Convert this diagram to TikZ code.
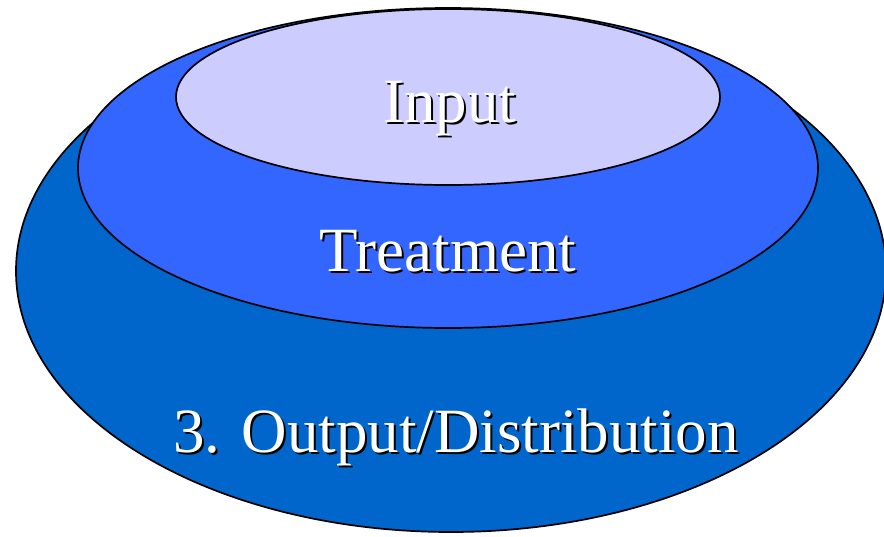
\documentclass[tikz,border=0pt]{standalone}
\usepackage{fontspec}
\setmainfont{Liberation Serif}
\usetikzlibrary{shapes.geometric}
\definecolor{outerblue}{HTML}{0066CC}
\definecolor{midblue}{HTML}{3366FF}
\definecolor{innerlav}{HTML}{CCCCFF}
\newcommand{\shadowedtext}[1]{\makebox[0pt][l]{\hspace{2pt}\raisebox{-2pt}{\color{black}#1}}\color{white}#1}
\tikzset{
  ring/.style={ellipse, draw=black, line width=1.7pt, inner sep=0pt},
  lbl/.style={anchor=base, inner sep=0pt, font=\fontsize{63}{70}\selectfont}
}
\begin{document}
\begin{tikzpicture}[x=1pt,y=-1pt]
\clip (0,0) rectangle (884,536);
\fill[white] (0,0) rectangle (884,536);
\node[ring, fill=outerblue, minimum width=870pt, minimum height=522pt] (outer) at (451,271) {};
\node[ring, fill=midblue, minimum width=740pt, minimum height=320pt] (middle) at (448,168) {};
\node[ring, fill=innerlav, minimum width=544pt, minimum height=176pt] (inner) at (448,97) {};
\node[lbl] (input) at (450,122) {\shadowedtext{Input}};
\node[lbl] (treat) at (448,271) {\shadowedtext{Treatment}};
\node[lbl] (out) at (456,452) {\shadowedtext{3. Output/Distribution}};
\end{tikzpicture}
\end{document}
